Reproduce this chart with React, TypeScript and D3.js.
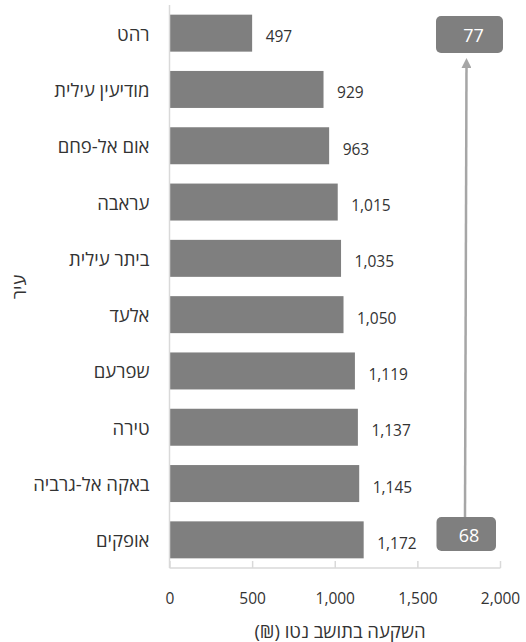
import React from "react";
import * as d3 from "d3";

const cities = ["רהט", "מודיעין עילית", "אום אל-פחם", "עראבה", "ביתר עילית", "אלעד", "שפרעם", "טירה", "באקה אל-גרביה", "אופקים"];
const values = [497, 929, 963, 1015, 1035, 1050, 1119, 1137, 1145, 1172];
const xTicks = [0, 500, 1000, 1500, 2000];
const rankTop = "77";
const rankBottom = "68";
const xTitle = "השקעה בתושב נטו (₪)";
const yTitle = "עיר";

const W = 526;
const H = 642;
const FONT = "'Open Sans', 'Liberation Sans', 'DejaVu Sans', sans-serif";
const TEXT = "#333333";
const AXIS = "#d9d9d9";
const BAR = "#7f7f7f";
const HEB = 18.5;
const NUM = 15.5;

export default function App() {
  const x = d3.scaleLinear().domain([0, 2000]).range([170, 500.5]);
  const y = d3
    .scaleBand<string>()
    .domain(cities)
    .range([5, 568])
    .paddingInner(0.343)
    .paddingOuter(0.1715);
  const fmt = d3.format(",");
  const axisY = 568;

  return (
    <svg
      width={W}
      height={H}
      style={{ position: "absolute", left: 0, top: 0 }}
      fontFamily={FONT}
    >
      {/* bars */}
      {cities.map((c, i) => (
        <rect
          key={c}
          x={x(0)}
          y={y(c)!}
          width={x(values[i]) - x(0)}
          height={y.bandwidth()}
          fill={BAR}
        />
      ))}
      {/* value labels */}
      {cities.map((c, i) => (
        <text
          key={"v" + c}
          x={x(values[i]) + 13.5}
          y={y(c)! + y.bandwidth() / 2 + 3}
          dominantBaseline="central"
          fontSize={NUM}
          fill={TEXT}
        >
          {fmt(values[i])}
        </text>
      ))}
      {/* category labels */}
      {cities.map((c) => (
        <text
          key={"c" + c}
          x={149.5}
          y={y(c)! + y.bandwidth() / 2}
          dominantBaseline="central"
          textAnchor="end"
          fontSize={HEB}
          fill={TEXT}
        >
          {c}
        </text>
      ))}
      {/* y axis line */}
      <line x1={169.5} x2={169.5} y1={5} y2={axisY} stroke={AXIS} strokeWidth={1.5} />
      {/* x axis */}
      <line x1={169.5} x2={x(2000)} y1={axisY} y2={axisY} stroke={AXIS} strokeWidth={1.5} />
      {xTicks.map((t) => (
        <g key={t}>
          <line x1={x(t)} x2={x(t)} y1={axisY} y2={axisY - 7} stroke={AXIS} strokeWidth={1.5} />
          <text
            x={x(t)}
            y={598}
            textAnchor="middle"
            dominantBaseline="central"
            fontSize={NUM}
            fill={TEXT}
          >
            {fmt(t)}
          </text>
        </g>
      ))}
      {/* axis titles */}
      <text
        x={340}
        y={630}
        textAnchor="middle"
        dominantBaseline="central"
        direction="rtl"
        style={{ direction: "rtl", unicodeBidi: "embed" }}
        fontSize={HEB}
        fill={TEXT}
      >
        {xTitle}
      </text>
      <text
        transform="translate(18,287) rotate(-90)"
        textAnchor="middle"
        dominantBaseline="central"
        fontSize={HEB}
        fill={TEXT}
      >
        {yTitle}
      </text>
      {/* arrow */}
      <defs>
        <marker
          id="ah"
          viewBox="0 0 10 10"
          refX="5"
          refY="5"
          markerWidth="4"
          markerHeight="4"
          orient="auto"
        >
          <path d="M0,0 L10,5 L0,10 z" fill="#a6a6a6" />
        </marker>
      </defs>
      <line
        x1={465}
        y1={517}
        x2={466.5}
        y2={63}
        stroke="#a6a6a6"
        strokeWidth={2.5}
        markerEnd="url(#ah)"
      />
      {/* boxes */}
      <rect x={436} y={16} width={67} height={37} rx={5} fill={BAR} />
      <text x={473.5} y={35} textAnchor="middle" dominantBaseline="central" fontSize={18} fill="#ffffff">
        {rankTop}
      </text>
      <rect x={436.5} y={517} width={59.5} height={34} rx={5} fill={BAR} />
      <text x={469} y={534.5} textAnchor="middle" dominantBaseline="central" fontSize={18} fill="#ffffff">
        {rankBottom}
      </text>
    </svg>
  );
}
